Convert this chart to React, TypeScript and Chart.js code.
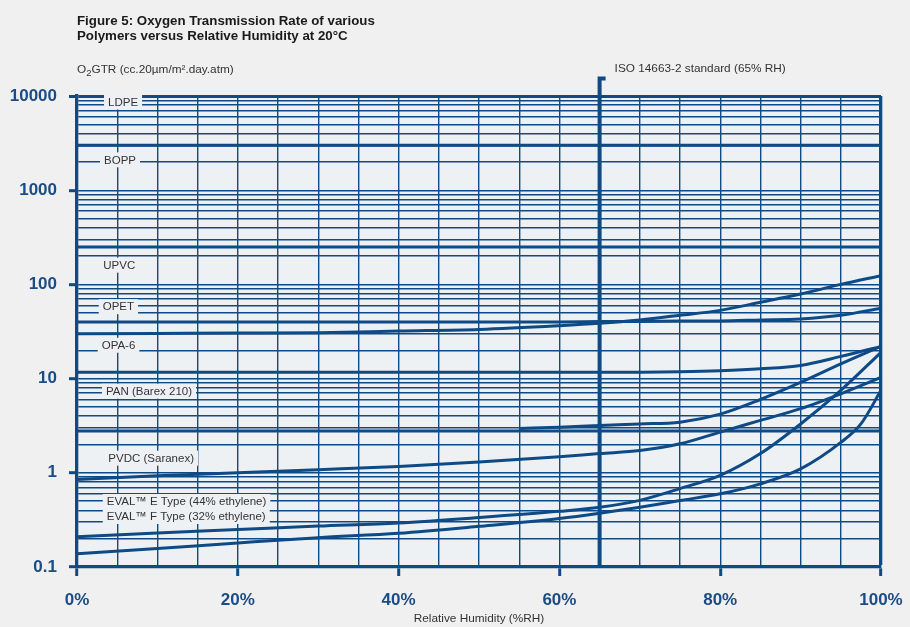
import React, { useEffect, useRef } from 'react';
import { Chart, registerables } from 'chart.js';

Chart.register(...registerables);

// ---------- data ----------
const rhSteps = [0, 10, 20, 30, 40, 50, 60, 65, 70, 75, 80, 85, 90, 95, 100];
const rhEdges = [0, 100];

const band3000 = [3000, 3000];
const band250 = [250, 250];
const panFlat = [2.78, 2.78];

const opetRising = [30, 30.2, 30.4, 30.7, 32, 33.3, 36.5, 38.7, 42, 47, 53, 64.5, 79, 100, 124];
const opetFlat = [40, 40, 40, 40, 40, 40, 40, 40.3, 40.5, 40.8, 41, 42, 43, 47, 56];
const opa6 = [11.7, 11.7, 11.7, 11.7, 11.7, 11.7, 11.7, 11.7, 11.7, 11.8, 12.1, 12.7, 13.8, 17.2, 22];

const panRh = [55, 60, 65, 70, 75, 80, 85, 90, 95, 100];
const panCurve = [2.95, 3.05, 3.18, 3.3, 3.45, 4.2, 6.0, 9.1, 14.3, 22];

const pvdc = [0.85, 0.93, 1.0, 1.08, 1.17, 1.3, 1.48, 1.6, 1.72, 2.03, 2.7, 3.6, 4.8, 6.9, 10.3];
const evalE = [0.21, 0.23, 0.25, 0.272, 0.294, 0.335, 0.39, 0.43, 0.51, 0.68, 0.94, 1.6, 3.3, 7.5, 19];

const evalFRh = [0, 10, 20, 30, 40, 50, 60, 65, 70, 75, 80, 85, 90, 95, 97.5, 100];
const evalF = [0.138, 0.157, 0.18, 0.205, 0.228, 0.27, 0.327, 0.372, 0.431, 0.508, 0.598, 0.764, 1.1, 2.1, 3.3, 7.5];

const isoRh = [65, 65, 65.75];
const isoVal = [0.1, 15300, 15300];

const labelNames = [
  'LDPE',
  'BOPP',
  'UPVC',
  'OPET',
  'OPA-6',
  'PAN (Barex 210)',
  'PVDC (Saranex)',
  'EVAL\u2122 E Type (44% ethylene)',
  'EVAL\u2122 F Type (32% ethylene)',
];
const labelRh = [3.86, 3.36, 3.27, 3.2, 3.07, 3.6, 3.9, 3.7, 3.7];
const labelVal = [8630, 2100, 160, 58, 22.6, 7.35, 1.43, 0.496, 0.344];

const yDecades = [0.1, 1, 10, 100, 1000, 10000];
const yDecadeLabels = ['0.1', '1', '10', '100', '1000', '10000'];
const xMajor = [0, 20, 40, 60, 80, 100];
const xMajorLabels = ['0%', '20%', '40%', '60%', '80%', '100%'];

const titleLines = [
  'Figure 5: Oxygen Transmission Rate of various',
  'Polymers versus Relative Humidity at 20\u00B0C',
];
const isoText = 'ISO 14663-2 standard (65% RH)';
const xTitle = 'Relative Humidity (%RH)';

// ---------- styles ----------
const LINE = '#0e4a86';
const TICK = '#1a4c86';
const TEXT = '#333333';
const PAGE_BG = '#f0f0f0';
const PLOT_BG = '#eef1f4';
const FONT = '"Liberation Sans", Arial, Helvetica, sans-serif';
const CLEAR = 'rgba(0,0,0,0)';

const pts = (xs: number[], ys: number[]) => xs.map((x, i) => ({ x, y: ys[i] }));

const isDecade = (v: number) => {
  if (!(v > 0)) return false;
  const l = Math.log10(v);
  return Math.abs(l - Math.round(l)) < 1e-9;
};

const yGridValues: number[] = (() => {
  const out: number[] = [];
  for (let d = 0; d < yDecades.length - 1; d++) {
    for (let m = 1; m <= 9; m++) out.push(+(yDecades[d] * m).toPrecision(6));
  }
  out.push(yDecades[yDecades.length - 1]);
  return out;
})();

const bgPlugin = {
  id: 'bgPlugin',
  beforeDraw(chart: any) {
    const { ctx, chartArea: a, width, height } = chart;
    ctx.save();
    ctx.fillStyle = PAGE_BG;
    ctx.fillRect(0, 0, width, height);
    ctx.fillStyle = PLOT_BG;
    ctx.fillRect(a.left, a.top, a.right - a.left, a.bottom - a.top);
    ctx.restore();
  },
};

const labelPlugin = {
  id: 'labelPlugin',
  beforeDatasetsDraw(chart: any) {
    const { ctx } = chart;
    const xs = chart.scales.x;
    const ys = chart.scales.y;
    ctx.save();
    ctx.font = `11.5px ${FONT}`;
    ctx.textBaseline = 'middle';
    ctx.textAlign = 'left';
    labelNames.forEach((t, i) => {
      const px = xs.getPixelForValue(labelRh[i]);
      const py = ys.getPixelForValue(labelVal[i]);
      const w = ctx.measureText(t).width;
      ctx.fillStyle = PLOT_BG;
      ctx.fillRect(px - 4, py - 7.5, w + 8, 15);
      ctx.fillStyle = TEXT;
      ctx.fillText(t, px, py + 0.5);
    });
    ctx.restore();
  },
};

const textPlugin = {
  id: 'textPlugin',
  afterDraw(chart: any) {
    const { ctx, chartArea: a } = chart;
    const xs = chart.scales.x;
    ctx.save();
    ctx.textBaseline = 'middle';
    ctx.textAlign = 'left';
    // title
    ctx.fillStyle = '#1a1a1a';
    ctx.font = `bold 13.3px ${FONT}`;
    ctx.fillText(titleLines[0], a.left, 21);
    ctx.fillText(titleLines[1], a.left, 36);
    // y title
    ctx.fillStyle = TEXT;
    ctx.font = `11.8px ${FONT}`;
    let cx = a.left;
    const ty = 70;
    ctx.fillText('O', cx, ty);
    cx += ctx.measureText('O').width;
    ctx.font = `9.5px ${FONT}`;
    ctx.fillText('2', cx, ty + 3);
    cx += ctx.measureText('2').width;
    ctx.font = `11.8px ${FONT}`;
    ctx.fillText('GTR (cc.20\u00B5m/m\u00B2.day.atm)', cx, ty);
    // ISO text
    ctx.fillText(isoText, xs.getPixelForValue(65) + 15, 68.5);
    // x title
    ctx.textAlign = 'center';
    ctx.fillText(xTitle, (a.left + a.right) / 2, 619);
    ctx.restore();
  },
};

const lineDs = (label: string, data: { x: number; y: number }[], extra: any = {}) => ({
  label,
  data,
  borderColor: LINE,
  backgroundColor: LINE,
  borderWidth: 3,
  pointRadius: 0,
  pointHoverRadius: 0,
  fill: false,
  cubicInterpolationMode: 'monotone',
  ...extra,
});

export default function App() {
  const canvasRef = useRef<HTMLCanvasElement | null>(null);

  useEffect(() => {
    document.body.style.margin = '0';
    document.body.style.background = PAGE_BG;
    const canvas = canvasRef.current;
    if (!canvas) return;

    const chart = new Chart(canvas, {
      type: 'line',
      data: {
        datasets: [
          lineDs('Band 3000', pts(rhEdges, band3000)),
          lineDs('Band 250', pts(rhEdges, band250)),
          lineDs('OPET rising', pts(rhSteps, opetRising)),
          lineDs('OPET flat', pts(rhSteps, opetFlat)),
          lineDs('OPA-6', pts(rhSteps, opa6)),
          lineDs('PAN flat', pts(rhEdges, panFlat)),
          lineDs('PAN', pts(panRh, panCurve)),
          lineDs('PVDC', pts(rhSteps, pvdc)),
          lineDs('EVAL E', pts(rhSteps, evalE)),
          lineDs('EVAL F', pts(evalFRh, evalF)),
          lineDs('ISO 14663-2', pts(isoRh, isoVal), {
            borderWidth: 4,
            cubicInterpolationMode: 'default',
            tension: 0,
            clip: false,
            borderCapStyle: 'butt',
          }),
        ],
      },
      options: {
        animation: false,
        responsive: false,
        devicePixelRatio: 1,
        layout: { padding: { top: 96, right: 29, left: 0, bottom: 0 } },
        plugins: {
          legend: { display: false },
          tooltip: { enabled: false },
          title: { display: false },
        },
        events: [],
        scales: {
          x: {
            type: 'linear',
            min: 0,
            max: 100,
            afterFit: (s: any) => {
              s.height = 60;
              s.paddingLeft = 0;
              s.paddingRight = 0;
            },
            ticks: {
              stepSize: 5,
              autoSkip: false,
              maxRotation: 0,
              padding: 14,
              color: TICK,
              font: { family: FONT, size: 17, weight: 'bold' },
              callback: (v: any) => {
                const i = xMajor.indexOf(Number(v));
                return i >= 0 ? xMajorLabels[i] : '';
              },
            },
            grid: {
              color: LINE,
              lineWidth: (c: any) => (c.tick && c.tick.value === 100 ? 3.3 : 1.4),
              drawTicks: true,
              tickLength: 9,
              tickWidth: 3,
              tickColor: (c: any) => (c.tick && xMajor.indexOf(c.tick.value) >= 0 ? LINE : CLEAR),
            },
            border: { display: true, color: LINE, width: 3.3 },
          },
          y: {
            type: 'logarithmic',
            min: 0.1,
            max: 10000,
            afterFit: (s: any) => {
              s.width = 77;
              s.paddingTop = 0;
              s.paddingBottom = 0;
            },
            afterBuildTicks: (s: any) => {
              s.ticks = yGridValues.map((v) => ({ value: v, major: isDecade(v) }));
            },
            ticks: {
              autoSkip: false,
              padding: 12,
              color: TICK,
              font: { family: FONT, size: 17, weight: 'bold' },
              callback: (v: any) => {
                const n = Number(v);
                if (!isDecade(n)) return '';
                const i = yDecades.findIndex((d) => Math.abs(d - n) / d < 1e-6);
                return i >= 0 ? yDecadeLabels[i] : '';
              },
            },
            grid: {
              color: LINE,
              lineWidth: (c: any) => (c.tick && c.tick.value >= 9999 ? 3 : 1.4),
              drawTicks: true,
              tickLength: 8,
              tickWidth: 3,
              tickColor: (c: any) => (c.tick && isDecade(c.tick.value) ? LINE : CLEAR),
            },
            border: { display: true, color: LINE, width: 3.3 },
          },
        },
      } as any,
      plugins: [bgPlugin, labelPlugin, textPlugin],
    });

    return () => {
      chart.destroy();
    };
  }, []);

  return (
    <div style={{ width: 910, height: 627, background: PAGE_BG }}>
      <canvas ref={canvasRef} width={910} height={627} style={{ display: 'block', width: 910, height: 627 }} />
    </div>
  );
}
